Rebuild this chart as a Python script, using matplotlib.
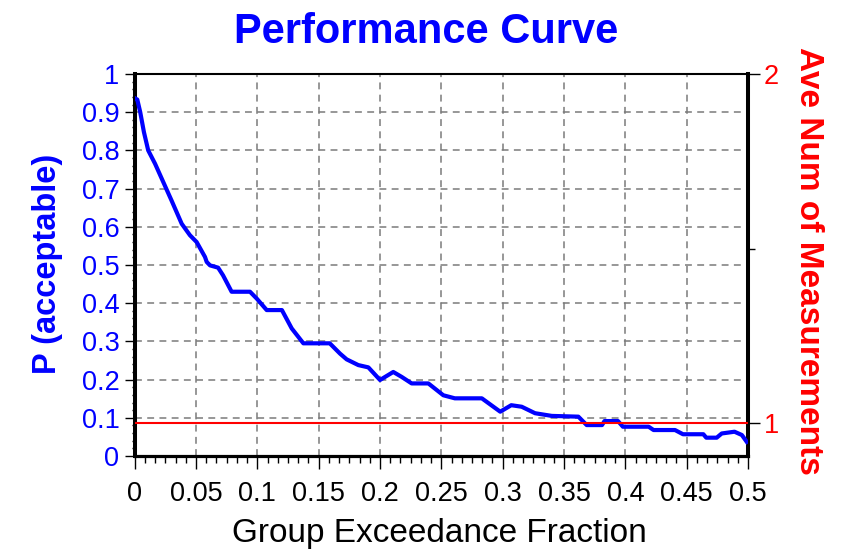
import matplotlib
matplotlib.use('Agg')
import matplotlib.pyplot as plt
from matplotlib.ticker import AutoMinorLocator, FixedLocator

plt.rcParams['font.family'] = ['Liberation Sans', 'DejaVu Sans']

# group exceedance fraction vs P(acceptable)
exceed_frac = [0.001, 0.0021, 0.0045, 0.0075, 0.011, 0.0166, 0.0233, 0.030,
               0.0383, 0.045, 0.0505, 0.0573, 0.0587, 0.0614, 0.068, 0.072, 0.079,
               0.094, 0.0995, 0.1076, 0.12, 0.128, 0.1375, 0.159, 0.1674, 0.1728,
               0.1823, 0.1905, 0.200, 0.2108, 0.2177, 0.2258, 0.2394, 0.2516, 0.261,
               0.283, 0.298, 0.307, 0.3155, 0.3264, 0.34, 0.3617, 0.3685, 0.381,
               0.383, 0.394, 0.398, 0.419, 0.423, 0.4405, 0.447, 0.4636, 0.466,
               0.4745, 0.4786, 0.489, 0.495, 0.499]
p_accept = [0.935, 0.933, 0.900, 0.848, 0.800, 0.765, 0.717, 0.669,
            0.608, 0.578, 0.560, 0.521, 0.508, 0.499, 0.493, 0.473, 0.430,
            0.430, 0.412, 0.382, 0.382, 0.334, 0.295, 0.295, 0.268, 0.253,
            0.238, 0.232, 0.199, 0.220, 0.207, 0.190, 0.190, 0.159, 0.151,
            0.151, 0.116, 0.133, 0.129, 0.112, 0.105, 0.103, 0.081, 0.081,
            0.0915, 0.0915, 0.0767, 0.0767, 0.068, 0.068, 0.057, 0.057, 0.048,
            0.048, 0.059, 0.0636, 0.055, 0.037]

# average number of measurements (right axis)
ave_x = [0.0, 0.5]
ave_num = [1.0, 1.0]

x_ticks = [0, 0.05, 0.1, 0.15, 0.2, 0.25, 0.3, 0.35, 0.4, 0.45, 0.5]
x_tick_labels = ['0', '0.05', '0.1', '0.15', '0.2', '0.25', '0.3', '0.35', '0.4', '0.45', '0.5']
y_ticks = [0, 0.1, 0.2, 0.3, 0.4, 0.5, 0.6, 0.7, 0.8, 0.9, 1]
y_tick_labels = ['0', '0.1', '0.2', '0.3', '0.4', '0.5', '0.6', '0.7', '0.8', '0.9', '1']
right_ticks = [1, 2]
right_tick_labels = ['1', '2']

TICK_FS = 19.5

fig = plt.figure(figsize=(8.43, 5.57), dpi=100)
ax = fig.add_axes([0.1598, 0.1813, 0.7275, 0.6859])

ax.plot(exceed_frac, p_accept, color='#0000ff', lw=3.0, zorder=3)

ax.set_xlim(0, 0.5)
ax.set_ylim(0, 1)
ax.set_xticks(x_ticks)
ax.set_xticklabels(x_tick_labels)
ax.set_yticks(y_ticks)
ax.set_yticklabels(y_tick_labels)
ax.xaxis.set_minor_locator(AutoMinorLocator(6))
ax.yaxis.set_minor_locator(AutoMinorLocator(5))
ax.grid(True, which='major', color='#7a7a7a', lw=1.1, linestyle=(0, (4.5, 3.5)))

ax.tick_params(axis='x', which='major', length=9, width=1.0, pad=9, labelsize=TICK_FS,
               labelcolor='black')
ax.tick_params(axis='x', which='minor', length=5, width=1.0)
ax.tick_params(axis='y', which='major', length=7, width=1.0, pad=4, labelsize=TICK_FS,
               labelcolor='#0000ff')
ax.tick_params(axis='y', which='minor', length=2.5, width=1.0)

ax.spines['left'].set_linewidth(2.9)
ax.spines['bottom'].set_linewidth(2.3)
ax.spines['top'].set_linewidth(1.5)
ax.spines['right'].set_linewidth(2.9)

ax2 = ax.twinx()
ax2.plot(ave_x, ave_num, color='#ff0000', lw=1.5, zorder=4)
ax2.set_ylim(0.9065, 2)
ax2.set_yticks(right_ticks)
ax2.set_yticklabels(right_tick_labels)
ax2.yaxis.set_minor_locator(FixedLocator([1.5]))
ax2.tick_params(axis='y', which='major', length=8.5, width=1.0, pad=3, labelsize=TICK_FS,
                labelcolor='#ff0000')
ax2.tick_params(axis='y', which='minor', length=5, width=1.0)
for s in ax2.spines.values():
    s.set_visible(False)

fig.text(0.505, 1 - 43 / 557, 'Performance Curve', ha='center', va='baseline',
         fontsize=30, fontweight='bold', color='#0000ff')
fig.text(0.521, 1 - 542 / 557, 'Group Exceedance Fraction', ha='center', va='baseline',
         fontsize=24, color='black')
fig.text(47.5 / 843, 0.526, 'P (acceptable)', rotation=90, ha='center', va='center',
         fontsize=23.5, fontweight='bold', color='#0000ff')
fig.text(809 / 843, 0.532, 'Ave Num of Measurements', rotation=270, ha='center', va='center',
         fontsize=24, fontweight='bold', color='#ff0000')

fig.savefig('out.png', dpi=100)
